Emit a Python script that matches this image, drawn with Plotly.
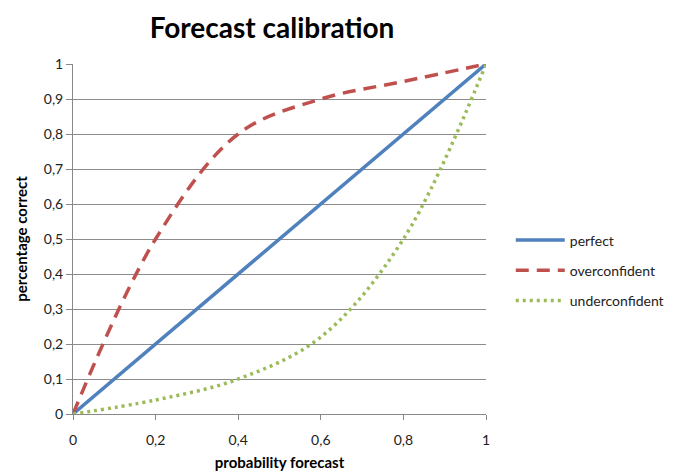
import plotly.graph_objects as go

x_vals = [0, 0.2, 0.4, 0.6, 0.8, 1]
perfect = [0, 0.2, 0.4, 0.6, 0.8, 1]
overconfident = [0, 0.5, 0.8, 0.9, 0.95, 1]
underconfident = [0, 0.04, 0.1, 0.22, 0.5, 1]

y_ticks = [0, 0.1, 0.2, 0.3, 0.4, 0.5, 0.6, 0.7, 0.8, 0.9, 1]
x_ticks = [0, 0.2, 0.4, 0.6, 0.8, 1]

FONT = "Lato"

fig = go.Figure()
fig.add_trace(go.Scatter(x=x_vals, y=perfect, name="perfect", mode="lines", legendgroup="a",
                         line=dict(color="#4F81BD", width=3.5)))
fig.add_trace(go.Scatter(x=x_vals, y=overconfident, name="overconfident", mode="lines", legendgroup="b",
                         line=dict(color="#C0504D", width=3.5, dash="13px,8px", shape="spline", smoothing=1)))
fig.add_trace(go.Scatter(x=x_vals, y=underconfident, name="underconfident", mode="lines", legendgroup="c",
                         line=dict(color="#9BBB59", width=3.5, dash="3px,4px", shape="spline", smoothing=1)))

fig.update_layout(
    width=687, height=473,
    margin=dict(l=73, r=201, t=64, b=59),
    paper_bgcolor="white", plot_bgcolor="white",
    separators=", ",
    font=dict(family=FONT, size=13, color="#222"),
    title=dict(text="<b>Forecast calibration</b>", x=272 / 687, xanchor="center",
               y=1 - 28 / 473, yanchor="middle", font=dict(family=FONT, size=28, color="#000")),
    showlegend=True,
    legend=dict(x=1.06, xanchor="left", y=0.41, yanchor="middle",
                font=dict(family=FONT, size=14, color="#222"),
                tracegroupgap=9, itemwidth=49, bgcolor="rgba(0,0,0,0)"),
    xaxis=dict(range=[0, 1], tickvals=x_ticks, showgrid=False, zeroline=False, automargin=False,
               showline=True, linecolor="#888", linewidth=1,
               ticks="outside", ticklen=5, tickcolor="#888", ticklabelstandoff=8,
               tickfont=dict(size=14), title=dict(text="<b>probability forecast</b>",
                                                    font=dict(size=15, color="#000"), standoff=10)),
    yaxis=dict(range=[0, 1], tickvals=y_ticks, showgrid=True, gridcolor="#8c8c8c", gridwidth=1,
               zeroline=False, showline=True, linecolor="#888", linewidth=1, automargin=False,
               ticks="outside", ticklen=6, tickcolor="#888",
               tickfont=dict(size=14), title=dict(text="<b>percentage correct</b>",
                                                    font=dict(size=15, color="#000"), standoff=12)),
)

fig.write_html("out.html")
